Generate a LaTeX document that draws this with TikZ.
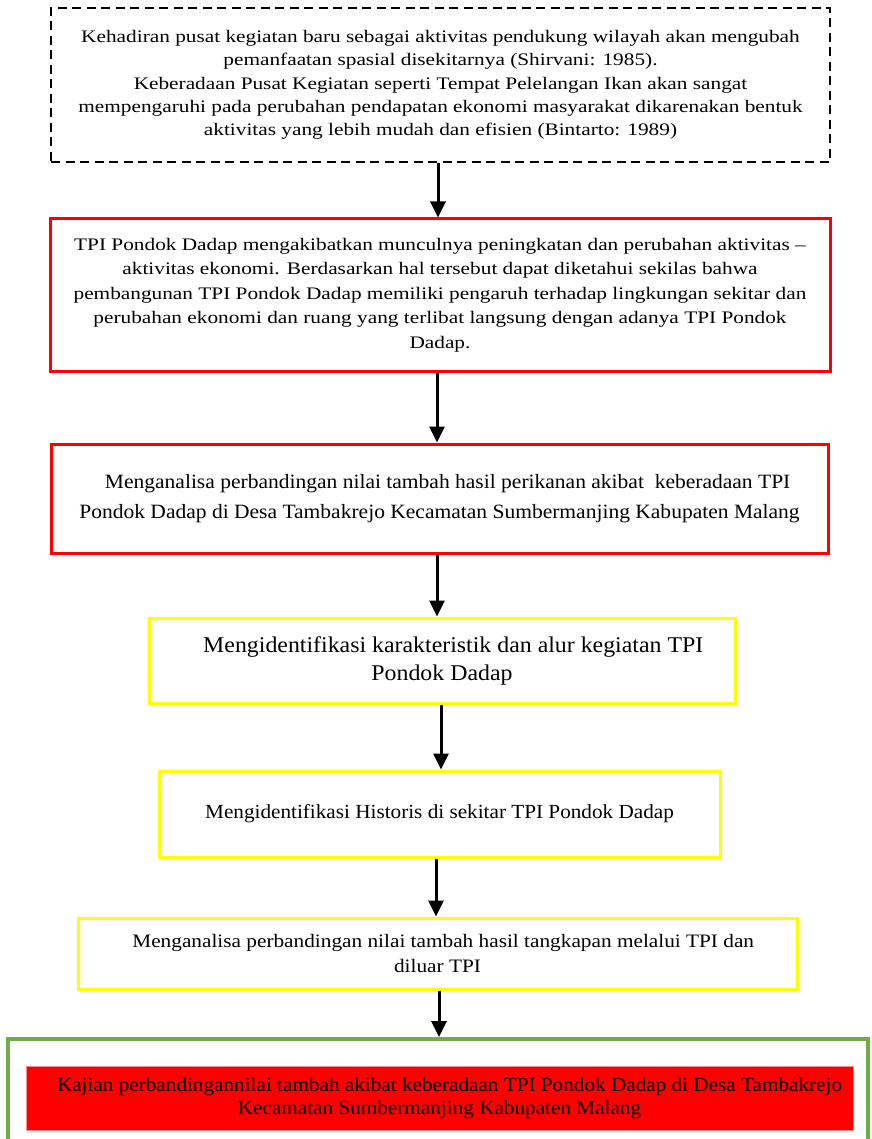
\documentclass[tikz,border=0pt]{standalone}
\usepackage{fontspec}
\setmainfont{Liberation Serif}
\newfontfamily\fwideA{Liberation Serif}[FakeStretch=1.21]
\newfontfamily\fwideB{Liberation Serif}[FakeStretch=1.12]
\newfontfamily\fwideC{Liberation Serif}[FakeStretch=1.06]
\usepackage{tikz}
\usetikzlibrary{arrows.meta}
\definecolor{redline}{HTML}{FF0000}
\definecolor{yelline}{HTML}{FFFF00}
\definecolor{grnline}{HTML}{70AD47}
\tikzset{
  arr/.style={-{Triangle[length=16pt,width=15pt]}, line width=3pt, draw=black},
  boxD/.style={draw=black, line width=2.4pt, dash pattern=on 9pt off 5.5pt, align=center, inner sep=0pt},
  boxR/.style={draw=redline, line width=3pt, align=center, inner sep=0pt},
  boxY/.style={draw=yelline, line width=3pt, align=center, inner sep=0pt},
  boxG/.style={draw=grnline, line width=4pt, inner sep=0pt},
  fillR/.style={fill=redline, draw=redline!45, line width=0.8pt, align=center, inner sep=0pt},
  txtA/.style={font=\fwideA\fontsize{17.6}{23.3}\selectfont},
  txtB/.style={font=\fwideB\fontsize{19}{25}\selectfont},
  txtC/.style={font=\fwideC\fontsize{20}{23.3}\selectfont}
}
\begin{document}
\begin{tikzpicture}[x=1pt, y=-1pt]
  \path[use as bounding box, clip] (0,0) rectangle (871,1139);

  \node[boxD, txtA, minimum width=779, minimum height=154] (teori) at (440.5,85)
    {Kehadiran pusat kegiatan baru sebagai aktivitas pendukung wilayah akan mengubah\\
     pemanfaatan spasial disekitarnya (Shirvani: 1985).\\
     Keberadaan Pusat Kegiatan seperti Tempat Pelelangan Ikan akan sangat\\
     mempengaruhi pada perubahan pendapatan ekonomi masyarakat dikarenakan bentuk\\
     aktivitas yang lebih mudah dan efisien (Bintarto: 1989)};

  \node[boxR, txtA, font=\fwideA\fontsize{17.6}{24.5}\selectfont, minimum width=780, minimum height=152] (latar) at (440,295)
    {TPI Pondok Dadap mengakibatkan munculnya peningkatan dan perubahan aktivitas –\\
     aktivitas ekonomi. Berdasarkan hal tersebut dapat diketahui sekilas bahwa\\
     pembangunan TPI Pondok Dadap memiliki pengaruh terhadap lingkungan sekitar dan\\
     perubahan ekonomi dan ruang yang terlibat langsung dengan adanya TPI Pondok\\
     Dadap.};

  \node[boxR, txtC, font=\fwideC\fontsize{20.3}{30}\selectfont, minimum width=777, minimum height=109] (tujuan) at (439.5,498.5)
    {\hspace*{0.8em}Menganalisa perbandingan nilai tambah hasil perikanan akibat\ \ keberadaan TPI\\
     Pondok Dadap di Desa Tambakrejo Kecamatan Sumbermanjing Kabupaten Malang};

  \node[boxY, txtC, font=\fwideC\fontsize{22.5}{28}\selectfont, minimum width=586, minimum height=85] (sasaran1) at (442,660.5)
    {\hspace*{1em}Mengidentifikasi karakteristik dan alur kegiatan TPI\\
     Pondok Dadap};

  \node[boxY, txtC, minimum width=561, minimum height=86] (sasaran2) at (439.5,814)
    {Mengidentifikasi Historis di sekitar TPI Pondok Dadap};

  \node[boxY, txtB, minimum width=719, minimum height=71] (sasaran3) at (437.5,953.5)
    {\hspace*{0.6em}Menganalisa perbandingan nilai tambah hasil tangkapan melalui TPI dan\\
     diluar TPI};

  \node[boxG, minimum width=860, minimum height=111] (hasil) at (438,1094.5) {};
  \node[fillR, txtC, minimum width=827, minimum height=64] (kajian) at (439.5,1098)
    {\hspace*{1em}Kajian perbandingannilai tambah akibat keberadaan TPI Pondok Dadap di Desa Tambakrejo\\
     Kecamatan Sumbermanjing Kabupaten Malang};

  \draw[arr] (438,0 |- teori.south) -- (438,0 |- latar.north);
  \draw[arr] (437,0 |- latar.south) -- (437,0 |- tujuan.north);
  \draw[arr] (437,0 |- tujuan.south) -- (437,0 |- sasaran1.north);
  \draw[arr] (441,0 |- sasaran1.south) -- (441,0 |- sasaran2.north);
  \draw[arr] (436,0 |- sasaran2.south) -- (436,0 |- sasaran3.north);
  \draw[arr] (439,0 |- sasaran3.south) -- (439,0 |- hasil.north);
\end{tikzpicture}
\end{document}
